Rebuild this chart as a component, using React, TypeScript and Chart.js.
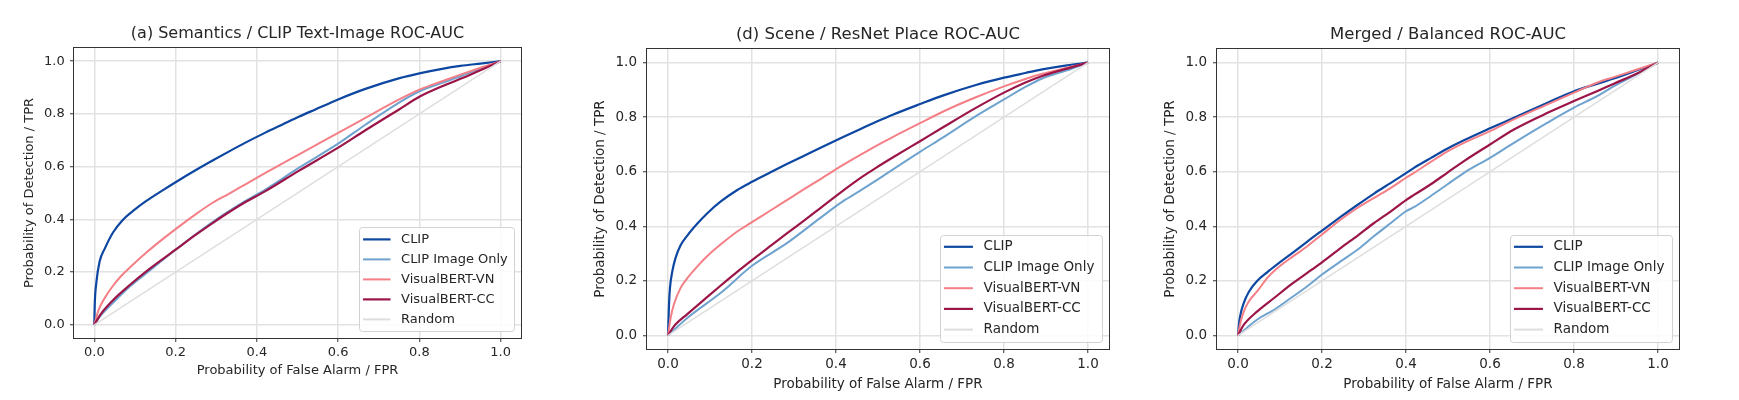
import React, { useEffect, useRef } from 'react';
import { Chart, registerables } from 'chart.js';

Chart.register(...registerables);

type Pt = [number, number];

// ---------- text ----------
const chartTitles = [
  '(a) Semantics / CLIP Text-Image ROC-AUC',
  '(d) Scene / ResNet Place ROC-AUC',
  'Merged / Balanced ROC-AUC',
];
const seriesLabels = ['CLIP', 'CLIP Image Only', 'VisualBERT-VN', 'VisualBERT-CC', 'Random'];
const xAxisTitle = 'Probability of False Alarm / FPR';
const yAxisTitle = 'Probability of Detection / TPR';
const tickValues = [0, 0.2, 0.4, 0.6, 0.8, 1.0];

// ---------- data: (FPR, TPR) ----------
const semanticsClip: Pt[] = [[0,0],[0.001,0.075],[0.005,0.16],[0.013,0.24],[0.026,0.29],[0.046,0.35],[0.07,0.398],[0.1,0.438],[0.128,0.47],[0.169,0.511],[0.2,0.541],[0.25,0.587],[0.291,0.623],[0.332,0.658],[0.372,0.691],[0.421,0.729],[0.462,0.759],[0.503,0.789],[0.544,0.817],[0.6,0.855],[0.667,0.895],[0.749,0.935],[0.8,0.954],[0.856,0.971],[0.901,0.982],[0.95,0.991],[1,1]];
const semanticsImageOnly: Pt[] = [[0,0],[0.0146,0.033],[0.047,0.085],[0.088,0.146],[0.128,0.196],[0.2,0.285],[0.291,0.39],[0.372,0.47],[0.421,0.513],[0.503,0.595],[0.6,0.687],[0.667,0.759],[0.749,0.842],[0.8,0.886],[0.856,0.918],[0.901,0.943],[0.95,0.972],[1,1]];
const semanticsVN: Pt[] = [[0,0],[0.0106,0.057],[0.027,0.105],[0.047,0.15],[0.066,0.185],[0.088,0.218],[0.128,0.274],[0.169,0.326],[0.2,0.363],[0.25,0.42],[0.291,0.463],[0.332,0.498],[0.372,0.533],[0.421,0.576],[0.503,0.646],[0.6,0.728],[0.667,0.785],[0.749,0.854],[0.8,0.892],[0.856,0.924],[0.901,0.949],[0.95,0.975],[1,1]];
const semanticsCC: Pt[] = [[0,0],[0.0146,0.038],[0.047,0.095],[0.088,0.152],[0.128,0.203],[0.2,0.285],[0.25,0.342],[0.291,0.386],[0.332,0.428],[0.372,0.466],[0.421,0.507],[0.503,0.584],[0.6,0.672],[0.667,0.738],[0.749,0.816],[0.8,0.865],[0.856,0.905],[0.901,0.933],[0.95,0.966],[1,1]];

const sceneClip: Pt[] = [[0,0],[0.0024,0.113],[0.0047,0.174],[0.0103,0.235],[0.018,0.284],[0.03,0.33],[0.046,0.366],[0.07,0.41],[0.093,0.447],[0.125,0.49],[0.164,0.532],[0.2,0.563],[0.243,0.597],[0.283,0.628],[0.323,0.658],[0.362,0.687],[0.417,0.727],[0.456,0.755],[0.496,0.783],[0.535,0.809],[0.6,0.848],[0.654,0.879],[0.733,0.918],[0.8,0.945],[0.851,0.962],[0.891,0.975],[0.95,0.99],[1,1]];
const sceneImageOnly: Pt[] = [[0,0],[0.046,0.064],[0.125,0.155],[0.2,0.255],[0.283,0.338],[0.362,0.43],[0.417,0.492],[0.456,0.529],[0.496,0.568],[0.535,0.608],[0.6,0.673],[0.654,0.725],[0.733,0.804],[0.8,0.865],[0.851,0.911],[0.891,0.942],[0.95,0.972],[1,1]];
const sceneVN: Pt[] = [[0,0],[0.0063,0.064],[0.014,0.113],[0.03,0.174],[0.046,0.21],[0.07,0.253],[0.093,0.29],[0.125,0.333],[0.164,0.38],[0.2,0.415],[0.243,0.457],[0.283,0.496],[0.323,0.535],[0.362,0.572],[0.417,0.625],[0.456,0.66],[0.496,0.695],[0.535,0.727],[0.6,0.778],[0.654,0.82],[0.733,0.873],[0.8,0.913],[0.851,0.94],[0.891,0.959],[0.95,0.981],[1,1]];
const sceneCC: Pt[] = [[0,0],[0.014,0.033],[0.046,0.078],[0.093,0.14],[0.125,0.182],[0.164,0.232],[0.2,0.276],[0.243,0.327],[0.283,0.374],[0.323,0.42],[0.362,0.466],[0.417,0.531],[0.456,0.575],[0.496,0.615],[0.535,0.652],[0.6,0.712],[0.654,0.762],[0.733,0.834],[0.8,0.89],[0.851,0.927],[0.891,0.951],[0.95,0.978],[1,1]];

const mergedClip: Pt[] = [[0,0],[0.003,0.05],[0.0064,0.08],[0.014,0.12],[0.026,0.16],[0.046,0.2],[0.07,0.232],[0.094,0.261],[0.126,0.298],[0.165,0.344],[0.2,0.384],[0.245,0.435],[0.285,0.479],[0.324,0.52],[0.364,0.559],[0.4,0.595],[0.419,0.614],[0.459,0.65],[0.498,0.684],[0.538,0.715],[0.6,0.759],[0.657,0.798],[0.737,0.853],[0.8,0.895],[0.856,0.923],[0.895,0.942],[0.95,0.972],[1,1]];
const mergedImageOnly: Pt[] = [[0,0],[0.046,0.058],[0.086,0.094],[0.126,0.137],[0.165,0.18],[0.2,0.223],[0.245,0.272],[0.285,0.315],[0.324,0.364],[0.364,0.412],[0.4,0.455],[0.419,0.47],[0.459,0.511],[0.498,0.553],[0.538,0.596],[0.6,0.651],[0.657,0.706],[0.737,0.78],[0.8,0.835],[0.856,0.878],[0.895,0.914],[0.95,0.958],[1,1]];
const mergedVN: Pt[] = [[0,0],[0.0064,0.051],[0.014,0.088],[0.026,0.125],[0.046,0.162],[0.07,0.211],[0.094,0.247],[0.126,0.284],[0.165,0.327],[0.2,0.37],[0.245,0.425],[0.285,0.468],[0.324,0.504],[0.364,0.541],[0.4,0.578],[0.419,0.596],[0.459,0.636],[0.498,0.674],[0.538,0.706],[0.6,0.749],[0.657,0.792],[0.737,0.847],[0.8,0.89],[0.856,0.927],[0.895,0.947],[0.95,0.975],[1,1]];
const mergedCC: Pt[] = [[0,0],[0.014,0.039],[0.046,0.088],[0.086,0.137],[0.126,0.186],[0.165,0.229],[0.2,0.268],[0.245,0.321],[0.285,0.366],[0.324,0.412],[0.364,0.455],[0.4,0.496],[0.419,0.515],[0.459,0.554],[0.498,0.596],[0.538,0.639],[0.6,0.7],[0.657,0.755],[0.737,0.816],[0.8,0.859],[0.856,0.896],[0.895,0.923],[0.95,0.96],[1,1]];

const randomLine: Pt[] = [[0,0],[1,1]];

const panelSeries: Pt[][][] = [
  [semanticsClip, semanticsImageOnly, semanticsVN, semanticsCC, randomLine],
  [sceneClip, sceneImageOnly, sceneVN, sceneCC, randomLine],
  [mergedClip, mergedImageOnly, mergedVN, mergedCC, randomLine],
];

// ---------- styles ----------
const seriesColors = ['#0d47a1', '#6fa3cf', '#f47f86', '#9b1548', '#dedede'];
const seriesWidths = [2.2, 2, 2, 2.2, 1.5];
const FONT = '"DejaVu Sans", "Liberation Sans", sans-serif';
const TEXT_COLOR = '#262626';

// ---------- layout (pixels) ----------
const panelLayouts = [
  { left: 0, width: 580, area: { left: 74, right: 521, top: 48, bottom: 338 }, titleSize: 16, titleCenter: 34, fontSize: 13, yTitleCenter: 29.6, xTitleCenter: 371, xTickPad: 2.5, yTickPad: 5.3,
    legend: { inset: 6.6, rowH: 20, padV: 12, lineX: 4, lineLen: 27.5, textX: 42, padRight: 6.6 } },
  { left: 580, width: 579, area: { left: 67, right: 529, top: 49, bottom: 349 }, titleSize: 16.5, titleCenter: 35, fontSize: 13.5, yTitleCenter: 20.3, xTitleCenter: 384.3, xTickPad: 3.7, yTickPad: 6,
    legend: { inset: 7.2, rowH: 20.7, padV: 12.2, lineX: 3.7, lineLen: 29, textX: 43.3, padRight: 7.4 } },
  { left: 1159, width: 580, area: { left: 58, right: 520, top: 49, bottom: 349 }, titleSize: 16.5, titleCenter: 35, fontSize: 13.5, yTitleCenter: 11, xTitleCenter: 384.3, xTickPad: 3.7, yTickPad: 6,
    legend: { inset: 7.2, rowH: 20.7, padV: 12.2, lineX: 3.7, lineLen: 29, textX: 43.3, padRight: 7.4 } },
];
const HEIGHT = 400;

const framePlugin = {
  id: 'rocFrame',
  afterDatasetsDraw(chart: any) {
    const { ctx, chartArea: a } = chart;
    ctx.save();
    ctx.strokeStyle = '#333333';
    ctx.lineWidth = 1;
    ctx.strokeRect(Math.round(a.left) - 0.5, Math.round(a.top) - 0.5, Math.round(a.right - a.left) + 1, Math.round(a.bottom - a.top) + 1);
    ctx.restore();
  },
};

const legendPlugin = {
  id: 'rocLegend',
  afterDatasetsDraw(chart: any, _args: any, opts: any) {
    const { ctx, chartArea } = chart;
    const datasets = chart.data.datasets;
    ctx.save();
    ctx.font = `${opts.fontSize}px ${FONT}`;
    const textW = Math.max(...datasets.map((d: any) => ctx.measureText(d.label).width));
    const w = opts.textX + textW + opts.padRight;
    const h = opts.rowH * (datasets.length - 1) + 2 * opts.padV;
    const x = chartArea.right - opts.inset - w;
    const y = chartArea.bottom - opts.inset - h;
    ctx.beginPath();
    ctx.roundRect(Math.round(x) + 0.5, Math.round(y) + 0.5, Math.round(w), Math.round(h), 3);
    ctx.fillStyle = 'rgba(255,255,255,0.85)';
    ctx.fill();
    ctx.strokeStyle = '#d2d2d2';
    ctx.lineWidth = 1;
    ctx.stroke();
    datasets.forEach((d: any, i: number) => {
      const cy = y + opts.padV + i * opts.rowH;
      ctx.beginPath();
      ctx.moveTo(x + opts.lineX, cy);
      ctx.lineTo(x + opts.lineX + opts.lineLen, cy);
      ctx.strokeStyle = d.borderColor;
      ctx.lineWidth = Math.max(d.borderWidth, 2);
      ctx.stroke();
      ctx.fillStyle = TEXT_COLOR;
      ctx.textBaseline = 'middle';
      ctx.textAlign = 'left';
      ctx.fillText(d.label, x + opts.textX, cy);
    });
    ctx.restore();
  },
};

function RocPanel({ index }: { index: number }) {
  const ref = useRef<HTMLCanvasElement>(null);
  const L = panelLayouts[index];

  useEffect(() => {
    const canvas = ref.current;
    if (!canvas) return;
    const lh = L.fontSize * 1.2;
    const tlh = L.titleSize * 1.2;
    const tickOpts = {
      font: { family: FONT, size: L.fontSize },
      color: TEXT_COLOR,
      callback: (v: any) => Number(v).toFixed(1),
    };
    const gridOpts = { color: '#e2e2e2', lineWidth: 1.5, tickColor: '#333333', tickLength: 4, tickWidth: 1, drawTicks: true };
    const setTicks = (s: any) => { s.ticks = tickValues.map((v) => ({ value: v })); };

    const chart = new Chart(canvas, {
      type: 'scatter',
      data: {
        datasets: panelSeries[index].map((pts, i) => ({
          label: seriesLabels[i],
          data: pts.map(([x, y]) => ({ x, y })),
          showLine: true,
          borderColor: seriesColors[i],
          backgroundColor: seriesColors[i],
          borderWidth: seriesWidths[i],
          pointRadius: 0,
          pointHoverRadius: 0,
          cubicInterpolationMode: 'monotone',
          order: seriesLabels.length - 1 - i,
        })),
      } as any,
      options: {
        responsive: false,
        animation: false,
        devicePixelRatio: 1,
        events: [],
        layout: { padding: { left: 0, top: 0, bottom: 0, right: L.width - L.area.right } },
        plugins: {
          legend: { display: false },
          tooltip: { enabled: false },
          title: {
            display: true,
            text: chartTitles[index],
            fullSize: false,
            color: TEXT_COLOR,
            font: { family: FONT, size: L.titleSize, weight: 'normal' },
            padding: { top: L.titleCenter - tlh / 2, bottom: L.area.top - L.titleCenter - tlh / 2 },
          },
          rocLegend: { fontSize: L.fontSize, ...L.legend },
        } as any,
        scales: {
          x: {
            type: 'linear',
            min: -0.05,
            max: 1.05,
            afterBuildTicks: setTicks,
            afterFit: (s: any) => { s.height = HEIGHT - L.area.bottom; },
            ticks: { ...tickOpts, padding: L.xTickPad, maxRotation: 0 },
            grid: gridOpts,
            border: { display: false },
            title: {
              display: true,
              text: xAxisTitle,
              color: TEXT_COLOR,
              font: { family: FONT, size: L.fontSize },
              padding: { top: 0, bottom: HEIGHT - L.xTitleCenter - lh / 2 },
            },
          },
          y: {
            type: 'linear',
            min: -0.05,
            max: 1.05,
            afterBuildTicks: setTicks,
            afterFit: (s: any) => { s.width = L.area.left; },
            ticks: { ...tickOpts, padding: L.yTickPad },
            grid: gridOpts,
            border: { display: false },
            title: {
              display: true,
              text: yAxisTitle,
              color: TEXT_COLOR,
              font: { family: FONT, size: L.fontSize },
              padding: { top: L.yTitleCenter - lh / 2, bottom: 0 },
            },
          },
        } as any,
      },
      plugins: [framePlugin, legendPlugin],
    });
    return () => chart.destroy();
  }, [index]);

  return (
    <canvas
      ref={ref}
      width={L.width}
      height={HEIGHT}
      style={{ position: 'absolute', left: L.left, top: 0, width: L.width, height: HEIGHT, display: 'block' }}
    />
  );
}

export default function App() {
  return (
    <div style={{ position: 'absolute', left: 0, top: 0, width: 1739, height: HEIGHT, background: '#ffffff', overflow: 'hidden' }}>
      {panelLayouts.map((_, i) => (
        <RocPanel key={i} index={i} />
      ))}
    </div>
  );
}
